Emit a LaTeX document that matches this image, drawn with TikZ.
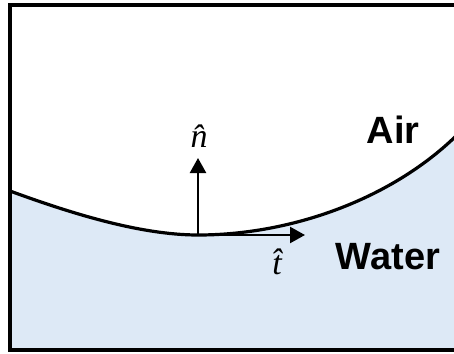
\documentclass[tikz,border=0pt]{standalone}
\usepackage{fontspec}
\setmainfont{Liberation Sans}
\newfontfamily\lblfont{Liberation Serif}
\usetikzlibrary{arrows.meta}
\definecolor{waterblue}{RGB}{221,233,246}
\tikzset{
  vec/.style={line width=2.4pt,-{Triangle[width=16pt,length=15pt]}},
  surface/.style={line width=3.2pt},
  frame/.style={line width=4pt},
  medium/.style={font=\fontsize{38}{44}\selectfont\bfseries,inner sep=0pt},
  veclabel/.style={font=\lblfont\fontsize{34}{38}\selectfont\itshape,inner sep=0pt}
}
\begin{document}
\begin{tikzpicture}[x=1pt,y=-1pt]
\useasboundingbox (0,0) rectangle (454,353);
\coordinate (L) at (10,191);
\coordinate (O) at (198,235);
\coordinate (R) at (456,136);
\coordinate (N) at (198,158);
\coordinate (T) at (305,235);
% water
\fill[waterblue] (L) .. controls (70,213) and (140,235) .. (O)
  .. controls (290,235) and (390,200) .. (R) -- (456,351) -- (10,351) -- cycle;
% surface
\draw[surface] (L) .. controls (70,213) and (140,235) .. (O)
  .. controls (290,235) and (390,200) .. (R);
% vectors
\draw[vec] (O) -- (N);
\draw[vec] (O) -- (T);
\node[veclabel] (nlab) at (199,136) {\^{n}};
\node[veclabel] (tlab) at (277,262) {\^{t}};
\node[medium] (air) at (393,130) {Air};
\node[medium] (water) at (388,257) {Water};
% frame
\draw[frame] (9.5,5.5) rectangle (458,349.5);
\end{tikzpicture}
\end{document}
